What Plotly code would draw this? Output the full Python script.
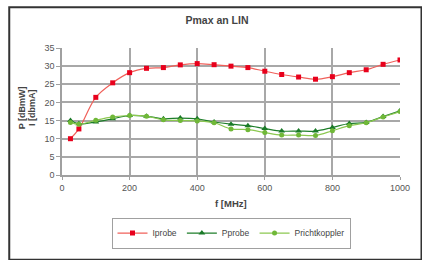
import plotly.graph_objects as go

freq = [25, 50, 100, 150, 200, 250, 300, 350, 400, 450, 500, 550, 600, 650, 700, 750, 800, 850, 900, 950, 1000]
iprobe = [10.0, 12.7, 21.4, 25.4, 28.2, 29.4, 29.6, 30.35, 30.7, 30.4, 30.0, 29.6, 28.6, 27.7, 27.0, 26.4, 27.1, 28.2, 29.0, 30.5, 31.7]
pprobe = [15.0, 14.1, 14.6, 15.5, 16.4, 16.2, 15.5, 15.7, 15.5, 14.6, 14.0, 13.6, 12.8, 12.1, 12.1, 12.1, 13.1, 14.2, 14.5, 16.1, 17.7]
prichtkoppler = [14.5, 14.0, 15.1, 16.0, 16.4, 16.2, 15.2, 15.0, 14.9, 14.4, 12.7, 12.5, 11.7, 11.0, 11.0, 10.9, 12.2, 13.6, 14.4, 16.0, 17.5]

x_ticks = [0, 200, 400, 600, 800, 1000]
y_ticks = [0, 5, 10, 15, 20, 25, 30, 35]

FONT = "Liberation Sans, Arial, sans-serif"

fig = go.Figure()
fig.add_trace(go.Scatter(x=freq, y=iprobe, name="Iprobe", mode="lines+markers",
                         line=dict(color="#f0605a", width=1.2, shape="spline"),
                         marker=dict(symbol="square", size=5, color="#e8001c")))
fig.add_trace(go.Scatter(x=freq, y=pprobe, name="Pprobe", mode="lines+markers",
                         line=dict(color="#1e7e2a", width=1.2, shape="spline"),
                         marker=dict(symbol="triangle-up", size=6, color="#1a7a28")))
fig.add_trace(go.Scatter(x=freq, y=prichtkoppler, name="Prichtkoppler", mode="lines+markers",
                         line=dict(color="#8cc850", width=1.2, shape="spline"),
                         marker=dict(symbol="circle", size=5, color="#70b838")))

fig.update_layout(
    width=422, height=260,
    margin=dict(l=62, r=14, t=48, b=79),
    paper_bgcolor="white", plot_bgcolor="white",
    font=dict(family=FONT, size=9, color="#555555"),
    showlegend=True,
    legend=dict(orientation="h", x=0.5, xanchor="center", y=-0.335, yanchor="top",
                bordercolor="#a0a0a0", borderwidth=1, bgcolor="white",
                font=dict(size=8.5, color="#444444"), itemwidth=30,
                tracegroupgap=0),
    title=dict(text="<b>Pmax an LIN</b>", x=217/422, xanchor="center",
               y=1 - 20/260, yanchor="middle",
               font=dict(family=FONT, size=10.5, color="#444444")),
)

fig.update_xaxes(range=[0, 1000], tickvals=x_ticks, showgrid=False,
                 showline=True, linecolor="#a0a0a0", linewidth=1.5,
                 ticks="outside", ticklen=3, tickcolor="#a0a0a0",
                 tickfont=dict(size=9, color="#555555"), zeroline=False,
                 minor=dict(tickvals=[200, 400, 600, 800], showgrid=True,
                            gridcolor="#a8a8a8", gridwidth=1.5, ticks=""))
fig.update_yaxes(range=[0, 35], tickvals=y_ticks, showgrid=False,
                 showline=True, linecolor="#a0a0a0", linewidth=1.5,
                 ticks="outside", ticklen=4, tickcolor="#a0a0a0",
                 tickfont=dict(size=9, color="#555555"), zeroline=False,
                 minor=dict(tickvals=[5, 10, 15, 20, 25, 30], showgrid=True,
                            gridcolor="#a8a8a8", gridwidth=1.5, ticks=""))

# axis titles
fig.add_annotation(text="<b>f [MHz]</b>", xref="paper", yref="paper",
                   x=(235 - 62) / 346, y=(181 - 211) / 133.3, showarrow=False,
                   xanchor="center", yanchor="middle",
                   font=dict(family=FONT, size=9.5, color="#444444"))
fig.add_annotation(text="<b>P [dBmW]</b>", xref="paper", yref="paper",
                   x=(21 - 62) / 346, y=(181 - 110) / 133.3, showarrow=False,
                   xanchor="center", yanchor="middle", textangle=-90,
                   font=dict(family=FONT, size=9, color="#444444"))
fig.add_annotation(text="<b>I [dbmA]</b>", xref="paper", yref="paper",
                   x=(32 - 62) / 346, y=(181 - 110) / 133.3, showarrow=False,
                   xanchor="center", yanchor="middle", textangle=-90,
                   font=dict(family=FONT, size=9, color="#444444"))

# outer frame (cropped at right and bottom)
fig.add_shape(type="rect", xref="paper", yref="paper",
              x0=(8 - 62) / 346, x1=(430 - 62) / 346,
              y0=(181 - 270) / 133.3, y1=(181 - 5) / 133.3,
              line=dict(color="#333333", width=2), fillcolor="rgba(0,0,0,0)")

fig.write_html("out.html", config={"displayModeBar": False},
               post_script="document.body.style.margin='0';document.body.style.overflow='hidden';")
